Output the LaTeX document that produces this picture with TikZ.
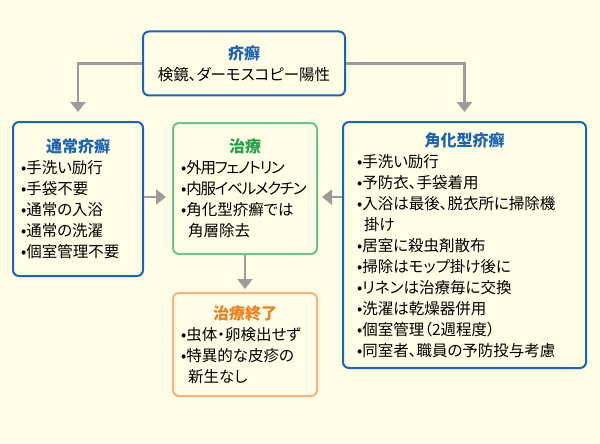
\documentclass[tikz,border=0pt]{standalone}
\usepackage{fontspec}
\setmainfont[RawFeature=+palt]{Noto Sans CJK JP}
\newfontfamily\tightjp[RawFeature=+palt, LetterSpace=-8]{Noto Sans CJK JP}
\usepackage{tikz}
\usetikzlibrary{positioning,arrows.meta}

\definecolor{hkblue}{HTML}{1C63B2}
\definecolor{hkgreenline}{HTML}{6CC58C}
\definecolor{hkgreen}{HTML}{22A04C}
\definecolor{hkorangeline}{HTML}{F7B57B}
\definecolor{hkorange}{HTML}{EF7F1E}
\definecolor{hkgray}{HTML}{9C9C9C}
\definecolor{hkbg}{HTML}{FFFDE6}

\newcommand{\ttlfont}{\bfseries\fontsize{16}{21}\selectfont}
\newcommand{\ind}{\hspace*{7pt}}

\begin{document}
\begin{tikzpicture}
[
x=1pt, y=-1pt,
panel/.style={rectangle, rounded corners=6pt, line width=2pt, inner ysep=4pt, font=\fontsize{15.5}{21}\selectfont},
bluepanel/.style={panel, draw=hkblue},
greenpanel/.style={panel, draw=hkgreenline},
orangepanel/.style={panel, draw=hkorangeline},
link/.style={line width=2.5pt, draw=hkgray, -{Triangle[width=15pt,length=10pt]}},
node distance=37pt
]
\fill[hkbg] (0,0) rectangle (600,444);
\useasboundingbox (0,0) rectangle (600,444);

\node[bluepanel, minimum width=202pt, minimum height=64pt, align=center] (kaisen) at (244,63.5)
  {{\ttlfont\color{hkblue}疥癬}\\検鏡、ダーモスコピー陽性};
\node[bluepanel, text width=114pt, inner xsep=8pt, minimum height=154pt, align=left] (tsujo) at (78,199)
  {\centerline{\ttlfont\color{hkblue}通常疥癬}
   \noindent•手洗い励行\\•手袋不要\\•通常の入浴\\•通常の洗濯\\•個室管理不要};
\node[greenpanel, text width=128pt, inner xsep=8pt, minimum height=131pt, align=left] (chiryo) at (245,188.5)
  {\centerline{\ttlfont\color{hkgreen}治療}
   \noindent•{\tightjp 外用フェノトリン}\\•{\tightjp 内服イベルメクチン}\\•角化型疥癬では\\\ind 角層除去};
\node[bluepanel, text width=215pt, inner xsep=14pt, minimum height=246pt, align=left] (kakka) at (464.5,245)
  {\centerline{\ttlfont\color{hkblue}角化型疥癬}
   \noindent•手洗い励行\\•予防衣、手袋着用\\•入浴は最後、脱衣所に掃除機\\\ind 掛け\\•居室に殺虫剤散布\\
   •掃除はモップ掛け後に\\•リネンは治療毎に交換\\•洗濯は乾燥器併用\\•個室管理（2週程度）\\•同室者、職員の予防投与考慮};
\node[orangepanel, text width=128pt, inner xsep=8pt, minimum height=103pt, align=left] (shuryo) [below=of chiryo]
  {\centerline{\ttlfont\color{hkorange}治療終了}
   \noindent•虫体・卵検出せず\\•特異的な皮疹の\\\ind 新生なし};

\draw[link, shorten >=9pt] (kaisen.west) -| (tsujo.north);
\draw[link, shorten >=9pt] (kaisen.east) -| (kakka.north);
\draw[link, shorten >=6pt] (tsujo.east |- 0,197) -- (chiryo.west |- 0,197);
\draw[link, shorten >=4pt] (kakka.west |- 0,197) -- (chiryo.east |- 0,197);
\draw[link, shorten >=3pt] (chiryo.south) -- (shuryo.north);
\end{tikzpicture}
\end{document}
